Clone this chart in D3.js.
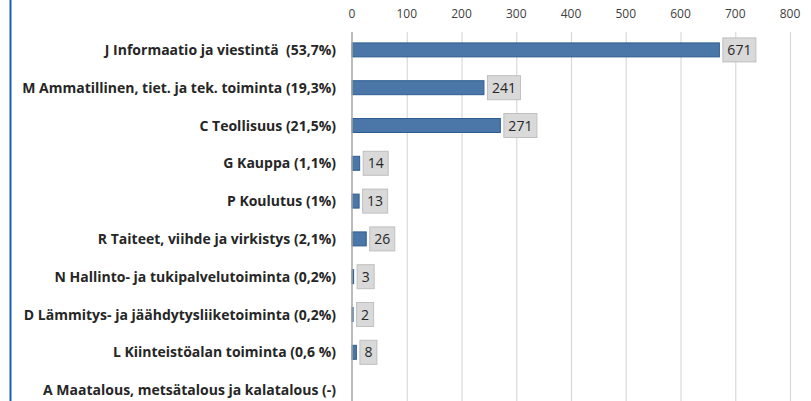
<!DOCTYPE html>
<html>
<head>
<meta charset="utf-8">
<script src="https://cdn.jsdelivr.net/npm/d3@7"></script>
<style>
  body { margin: 0; background: #fff; }
  svg { display: block; }
  text { white-space: pre; }
</style>
</head>
<body>
<svg id="chart" width="811" height="401"></svg>
<script>
// toimialat ja lukumäärät
var categories = [
    "J Informaatio ja viestintä  (53,7%)",
    "M Ammatillinen, tiet. ja tek. toiminta (19,3%)",
    "C Teollisuus (21,5%)",
    "G Kauppa (1,1%)",
    "P Koulutus (1%)",
    "R Taiteet, viihde ja virkistys (2,1%)",
    "N Hallinto- ja tukipalvelutoiminta (0,2%)",
    "D Lämmitys- ja jäähdytysliiketoiminta (0,2%)",
    "L Kiinteistöalan toiminta (0,6 %)",
    "A Maatalous, metsätalous ja kalatalous (-)"
];
var values = [671, 241, 271, 14, 13, 26, 3, 2, 8, null];
var ticks = [0, 100, 200, 300, 400, 500, 600, 700, 800];

var svg = d3.select("#chart");
var font = "'Open Sans', 'Liberation Sans', sans-serif";

// left border line
svg.append("line")
    .attr("x1", 10.5).attr("x2", 10.5)
    .attr("y1", 0).attr("y2", 401)
    .attr("stroke", "#1f5fb0")
    .attr("stroke-width", 2);

var x = d3.scaleLinear().domain([0, 800]).range([352, 790]);
var y = d3.scaleBand().domain(categories).range([31, 409]).paddingInner(0.63).paddingOuter(0.315);

// gridlines
svg.append("g").selectAll("line")
    .data(ticks.slice(1))
    .enter().append("line")
    .attr("x1", function(d) { return x(d) + 0.5; })
    .attr("x2", function(d) { return x(d) + 0.5; })
    .attr("y1", 32).attr("y2", 401)
    .attr("stroke", "#d9d9d9")
    .attr("stroke-width", 1.2);

// top tick labels
svg.append("g").selectAll("text")
    .data(ticks)
    .enter().append("text")
    .attr("x", function(d) { return x(d); })
    .attr("y", 18)
    .attr("text-anchor", "middle")
    .attr("font-family", font)
    .attr("font-size", "12px")
    .attr("fill", "#404040")
    .text(function(d) { return d; });

// bars
var rows = values.map(function(v, i) { return {v: v, c: categories[i]}; })
    .filter(function(d) { return d.v != null; });

svg.append("g").selectAll("rect")
    .data(rows)
    .enter().append("rect")
    .attr("x", x(0))
    .attr("y", function(d) { return y(d.c); })
    .attr("width", function(d) { return x(d.v) - x(0); })
    .attr("height", y.bandwidth())
    .attr("fill", "#4a77a8")
    .attr("stroke", "#2e5d92")
    .attr("stroke-width", 1);

// axis line
svg.append("line")
    .attr("x1", x(0)).attr("x2", x(0))
    .attr("y1", 32).attr("y2", 401)
    .attr("stroke", "#a6a6a6")
    .attr("stroke-width", 1.5);

// category labels
svg.append("g").selectAll("text")
    .data(categories)
    .enter().append("text")
    .attr("x", 336)
    .attr("y", function(d) { return y(d) + y.bandwidth() / 2; })
    .attr("dy", "0.36em")
    .attr("text-anchor", "end")
    .attr("font-family", font)
    .attr("font-weight", "bold")
    .attr("font-size", "14px")
    .attr("fill", "#262626")
    .text(function(d) { return d; });

// value labels
var lab = svg.append("g").selectAll("g")
    .data(rows)
    .enter().append("g")
    .attr("transform", function(d) { return "translate(" + (x(d.v) + 3) + "," + (y(d.c) + y.bandwidth() / 2) + ")"; });

lab.append("text")
    .attr("x", 5)
    .attr("dy", "0.36em")
    .attr("font-family", font)
    .attr("font-size", "14px")
    .attr("fill", "#262626")
    .text(function(d) { return d.v; })
    .each(function() {
        var w = this.getComputedTextLength();
        d3.select(this.parentNode).insert("rect", "text")
            .attr("x", 0.5).attr("y", -12)
            .attr("width", w + 9).attr("height", 24)
            .attr("fill", "#d9d9d9")
            .attr("stroke", "#bfbfbf");
    });
</script>
</body>
</html>
